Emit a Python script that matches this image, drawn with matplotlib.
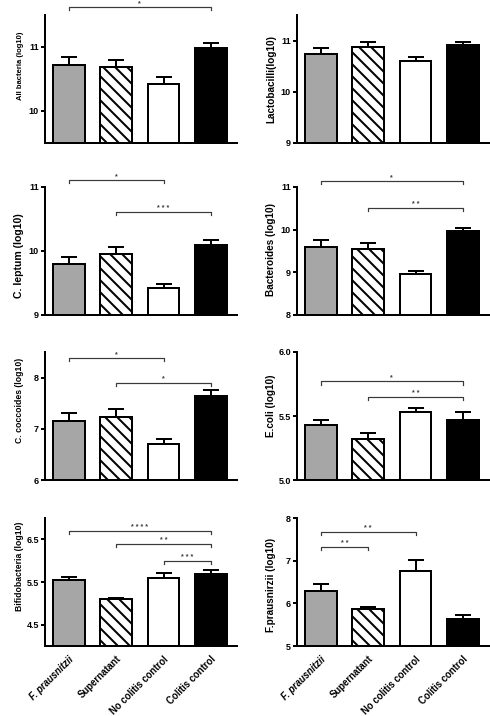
import numpy as np
import matplotlib
matplotlib.use('Agg')
import matplotlib.pyplot as plt

plt.rcParams['font.family'] = ['Liberation Sans', 'DejaVu Sans']
plt.rcParams['font.weight'] = 'bold'
plt.rcParams['hatch.linewidth'] = 2.0

groups = ['F. prausnitzii', 'Supernatant', 'No colitis control', 'Colitis control']
fills = ['#a6a6a6', 'white', 'white', 'black']
hatches = ['', '\\\\', '', '']

labels = ['All bacteria (log10)', 'Lactobacilli(log10)', 'C. leptum (log10)', 'Bacteroides (log10)',
          'C. coccoides (log10)', 'E.coli (log10)', 'Bifidobacteria (log10)', 'F.prausnirzii (log10)']

means = [[10.72, 10.68, 10.42, 10.99],
         [10.73, 10.88, 10.61, 10.91],
         [9.80, 9.95, 9.42, 10.10],
         [9.60, 9.55, 8.96, 9.97],
         [7.15, 7.24, 6.71, 7.65],
         [5.43, 5.32, 5.53, 5.47],
         [5.54, 5.09, 5.60, 5.68],
         [6.28, 5.87, 6.76, 5.63]]

errs = [[0.13, 0.12, 0.11, 0.07],
        [0.13, 0.10, 0.06, 0.07],
        [0.10, 0.11, 0.07, 0.07],
        [0.15, 0.13, 0.06, 0.07],
        [0.15, 0.15, 0.10, 0.10],
        [0.04, 0.05, 0.03, 0.06],
        [0.08, 0.03, 0.10, 0.10],
        [0.18, 0.05, 0.26, 0.09]]

ylims = [(9.5, 11.5), (9, 11.5), (9, 11), (8, 11), (6, 8.5), (5, 6), (4, 7), (5, 8)]
yticks = [[10, 11], [9, 10, 11], [9, 10, 11], [8, 9, 10, 11], [6, 7, 8],
          [5.0, 5.5, 6.0], [4.5, 5.5, 6.5], [5, 6, 7, 8]]
ytickfmt = ['%d', '%d', '%d', '%d', '%d', '%.1f', '%.1f', '%d']

# (from group, to group, height, number of stars)
sig = [[(0, 3, 11.625, 1)],
       [],
       [(0, 2, 11.11, 1), (1, 3, 10.61, 3)],
       [(0, 3, 11.14, 1), (1, 3, 10.51, 2)],
       [(0, 2, 8.38, 1), (1, 3, 7.90, 1)],
       [(0, 3, 5.77, 1), (1, 3, 5.65, 2)],
       [(0, 3, 6.70, 4), (1, 3, 6.39, 2), (2, 3, 5.99, 3)],
       [(0, 2, 7.67, 2), (0, 1, 7.33, 2)]]

# y-label size and vertical placement differ from panel to panel in the source
label_size = [7.6, 10, 10.5, 10, 8.6, 10, 8.6, 10]
label_y = [0.60, 0.50, 0.46, 0.51, 0.625, 0.58, 0.625, 0.48]

W, H = 490, 716
fig = plt.figure(figsize=(W / 72, H / 72), dpi=72)

lefts = [45, 297]
tops = [15, 187, 352, 518]
aw, ah = 192, 128

x = np.arange(4)
for i in range(8):
    r, c = i // 2, i % 2
    ax = fig.add_axes([lefts[c] / W, 1 - (tops[r] + ah) / H, aw / W, ah / H])
    ax.bar(x, means[i], width=0.67, color=fills, edgecolor='black', linewidth=2,
           hatch=hatches, zorder=2)
    ax.errorbar(x, means[i], yerr=[np.zeros(4), errs[i]], fmt='none', ecolor='black',
                elinewidth=2, capsize=8, capthick=2, zorder=1)
    lo, hi = ylims[i]
    ax.set_ylim(lo, hi)
    ax.set_xlim(-0.5, 3.55)
    ax.set_yticks(yticks[i])
    ax.set_yticklabels([ytickfmt[i] % v for v in yticks[i]], fontsize=9, fontweight='bold')
    ax.tick_params(axis='y', width=2, length=4, pad=2)
    ax.tick_params(axis='x', length=0)
    for s in ['top', 'right']:
        ax.spines[s].set_visible(False)
    for s in ['left', 'bottom']:
        ax.spines[s].set_linewidth(2)
    ax.set_ylabel(labels[i], fontsize=label_size[i], fontweight='bold')
    ax.yaxis.set_label_coords(-0.11, label_y[i])

    tick = 0.025 * (hi - lo)
    for a, b, h, n in sig[i]:
        ax.plot([a, a, b, b], [h - tick, h, h, h - tick], color='#3a3a3a', lw=1.2,
                clip_on=False)
        ax.text((a + b) / 2, h, ' '.join(['*'] * n), ha='center', va='bottom',
                fontsize=7, color='#3a3a3a')

    if r == 3:
        ax.set_xticks(x)
        ax.set_xticklabels(groups, rotation=45, ha='right', rotation_mode='anchor',
                           fontsize=9.5, fontweight='bold')
        ax.get_xticklabels()[0].set_fontstyle('italic')
        ax.tick_params(axis='x', pad=8)
    else:
        ax.set_xticks([])

fig.savefig('out.png', dpi=72)
